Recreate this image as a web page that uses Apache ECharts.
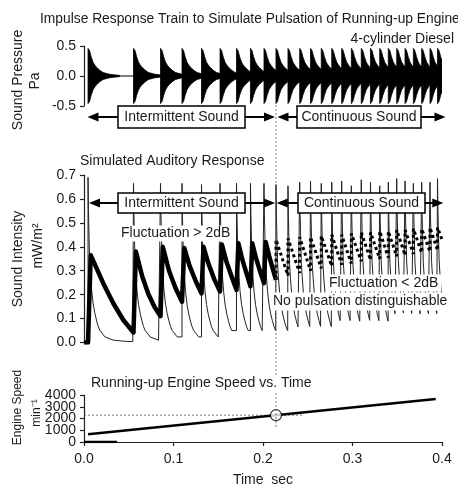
<!DOCTYPE html>
<html><head><meta charset="utf-8">
<script src="https://cdn.jsdelivr.net/npm/echarts/dist/echarts.min.js"></script>
<style>html,body{margin:0;padding:0;background:#fff}#c{width:458px;height:487px}</style>
</head><body><div id="c"></div>
<script>
// ---- data ----
const pulseTimes = [0.0045, 0.0553, 0.0855, 0.1095, 0.1313, 0.152, 0.1704, 0.186, 0.2011,
  0.2145, 0.2279, 0.241, 0.2531, 0.2651, 0.2768, 0.2879, 0.2987, 0.3098, 0.3201,
  0.3304, 0.34, 0.3494, 0.3587, 0.368, 0.3773, 0.3866, 0.395];
const pulsePressure = [0.46, 0.46, 0.46, 0.46, 0.46, 0.46, 0.46, 0.46, 0.46,
  0.46, 0.46, 0.46, 0.46, 0.46, 0.46, 0.46, 0.46, 0.46, 0.46,
  0.46, 0.46, 0.46, 0.46, 0.46, 0.46, 0.46, 0.46];
const pulseIntensity = [0.69, 0.665, 0.665, 0.665, 0.66, 0.665, 0.665, 0.665, 0.665,
  0.66, 0.655, 0.67, 0.675, 0.665, 0.67, 0.675, 0.655, 0.68, 0.67,
  0.655, 0.67, 0.685, 0.675, 0.665, 0.67, 0.67, 0.685];
// envelope of one impulse response (seconds after onset, fraction of amplitude)
const burstOffsets  = [0, 0.0008, 0.0019, 0.0035, 0.0056, 0.0075, 0.0094, 0.0131, 0.0168, 0.0242, 0.0354];
const burstEnvelope = [1, 0.97, 0.9, 0.7, 0.5, 0.4, 0.32, 0.21, 0.125, 0.0625, 0.02];
// decay of the intensity after one impulse (seconds after onset, fraction of peak)
const decayOffsets = [0, 0.0005, 0.0011, 0.0018, 0.0028, 0.004, 0.0056, 0.0075, 0.0094, 0.0112, 0.0131, 0.0187, 0.028, 0.042, 0.05];
const decayProfile = [1, 0.8, 0.65, 0.5, 0.41, 0.32, 0.24, 0.18, 0.136, 0.1, 0.075, 0.035, 0.0145, 0.007, 0.005];
// simulated auditory response (thick line, intermittent part)
const auditoryT = [0, 0.0045, 0.0075, 0.0216, 0.0327, 0.0439, 0.0553,
  0.058, 0.065, 0.072, 0.079, 0.0855,
  0.088, 0.095, 0.102, 0.1095,
  0.112, 0.118, 0.125, 0.1313,
  0.1335, 0.139, 0.1455, 0.152,
  0.154, 0.159, 0.165, 0.1704,
  0.1725, 0.177, 0.1815, 0.186,
  0.188, 0.192, 0.1965, 0.2011,
  0.203, 0.207, 0.2108, 0.2145];
const auditoryV = [0, 0, 0.365, 0.247, 0.164, 0.094, 0.042,
  0.38, 0.277, 0.202, 0.147, 0.11,
  0.40, 0.30, 0.23, 0.17,
  0.395, 0.32, 0.255, 0.205,
  0.40, 0.33, 0.265, 0.213,
  0.41, 0.34, 0.275, 0.22,
  0.415, 0.345, 0.29, 0.235,
  0.415, 0.355, 0.30, 0.248,
  0.42, 0.36, 0.31, 0.262];
// continuous part (dotted): peak after each pulse and value just before the next
const dottedPeaks   = [0.43, 0.435, 0.44, 0.44, 0.445, 0.45, 0.45, 0.455, 0.46, 0.46, 0.465, 0.465, 0.47, 0.47, 0.475, 0.475, 0.48, 0.48];
const dottedValleys = [0.28, 0.29, 0.30, 0.31, 0.32, 0.325, 0.33, 0.34, 0.345, 0.35, 0.355, 0.36, 0.365, 0.37, 0.375, 0.38, 0.385, 0.43];
const speedT = [0.0045, 0.393];
const speedV = [660, 3650];
const boundaryT = 0.2145;
const boundarySpeed = 2280;
const timeTickLabels = ['0.0', '0.1', '0.2', '0.3', '0.4'];
const speedTicks = [0, 1000, 2000, 3000, 4000];

// ---- build series data ----
const FONT = '"Liberation Sans", Arial, Helvetica, sans-serif';
const TXT = '#1a1a1a';

const thin = [[0, 0]];
for (let i = 0; i < pulseTimes.length; i++) {
  const t = pulseTimes[i], p = pulseIntensity[i];
  const next = i + 1 < pulseTimes.length ? pulseTimes[i + 1] : 0.41;
  const prevV = thin[thin.length - 1][1];
  thin.push([t, prevV]);
  thin.push([t, p]);
  for (let k = 1; k < decayOffsets.length; k++) {
    if (t + decayOffsets[k] >= next) break;
    thin.push([t + decayOffsets[k], p * decayProfile[k]]);
  }
}
const thick = auditoryT.map((t, i) => [t, auditoryV[i]]);
const startIdx = pulseTimes.indexOf(boundaryT);
const dotted = [[boundaryT, auditoryV[auditoryV.length - 1]]];
for (let j = 0; j < dottedPeaks.length; j++) {
  const t = pulseTimes[startIdx + j];
  const next = startIdx + j + 1 < pulseTimes.length ? pulseTimes[startIdx + j + 1] : 0.4;
  dotted.push([t, dottedPeaks[j]]);
  dotted.push([next, dottedValleys[j]]);
}

const chart = echarts.init(document.getElementById('c'), null, {renderer: 'canvas'});

const axisLineStyle = {color: '#222', width: 1.2};
function yAx(grid, min, max, interval, labels) {
  return {
    type: 'value', gridIndex: grid, min, max, interval,
    axisLine: {show: true, onZero: false, lineStyle: axisLineStyle},
    axisTick: {show: true, length: 4, lineStyle: axisLineStyle},
    axisLabel: {show: labels, fontSize: 14, color: TXT, fontFamily: FONT, margin: 8,
      showMinLabel: true, showMaxLabel: true, hideOverlap: false,
      formatter: v => v.toFixed(1)},
    splitLine: {show: false}
  };
}

const option = {
  animation: false,
  backgroundColor: '#fff',
  textStyle: {fontFamily: FONT},
  grid: [
    {left: 84, right: 16, top: 46, height: 60},
    {left: 84, right: 16, top: 175, height: 167.5},
    {left: 84, right: 16, top: 395, height: 47}
  ],
  xAxis: [
    {type: 'value', gridIndex: 0, min: 0, max: 0.4, show: false},
    {type: 'value', gridIndex: 1, min: 0, max: 0.4, show: false},
    {type: 'value', gridIndex: 2, min: 0, max: 0.4, interval: 0.1,
      axisLine: {show: true, onZero: false, lineStyle: axisLineStyle},
      axisTick: {show: true, length: 4, lineStyle: axisLineStyle},
      axisLabel: {fontSize: 14, color: TXT, fontFamily: FONT, margin: 10,
        showMinLabel: true, showMaxLabel: true, hideOverlap: false,
        formatter: v => timeTickLabels[Math.round(v * 10)]},
      splitLine: {show: false}}
  ],
  yAxis: [yAx(0, -0.5, 0.5, 0.5, true), yAx(1, 0, 0.7, 0.1, true), yAx(2, 0, 4000, 1000, false)],
  series: [
    {type: 'line', xAxisIndex: 0, yAxisIndex: 0, data: [[pulseTimes[0], 0], [0.4, 0]],
      symbol: 'none', lineStyle: {color: '#000', width: 1}, silent: true},
    {type: 'custom', xAxisIndex: 0, yAxisIndex: 0, encode: {x: 0, y: 1}, clip: true, silent: true,
      data: pulseTimes.map((t, i) => [t, pulsePressure[i]]),
      renderItem(params, api) {
        const t = api.value(0), a = api.value(1);
        const top = [], bot = [];
        for (let k = 0; k < burstOffsets.length; k++) {
          top.push(api.coord([t + burstOffsets[k], a * burstEnvelope[k]]));
          bot.push(api.coord([t + burstOffsets[k], -a * burstEnvelope[k]]));
        }
        return {type: 'polygon', shape: {points: top.concat(bot.reverse())},
          style: {fill: '#000', stroke: '#000', lineWidth: 0.8}};
      }},
    {type: 'line', xAxisIndex: 1, yAxisIndex: 1, data: thin, symbol: 'none', clip: true,
      lineStyle: {color: '#222', width: 1}, silent: true},
    {type: 'line', xAxisIndex: 1, yAxisIndex: 1, data: thick, symbol: 'none',
      lineStyle: {color: '#000', width: 4.5, join: 'round'}, silent: true},
    {type: 'line', xAxisIndex: 1, yAxisIndex: 1, data: dotted, symbol: 'none', clip: true,
      lineStyle: {color: '#000', width: 3, type: [3, 3]}, silent: true},
    {type: 'line', xAxisIndex: 2, yAxisIndex: 2, data: [[0, 0], [0.037, 0]], symbol: 'none',
      lineStyle: {color: '#000', width: 2.5}, silent: true},
    {type: 'line', xAxisIndex: 2, yAxisIndex: 2, data: [[0, boundarySpeed], [0.245, boundarySpeed]], symbol: 'none',
      lineStyle: {color: '#555', width: 0.8, type: [2, 2]}, silent: true},
    {type: 'line', xAxisIndex: 2, yAxisIndex: 2, data: speedT.map((t, i) => [t, speedV[i]]), symbol: 'none',
      lineStyle: {color: '#000', width: 2.5}, silent: true},
    {type: 'scatter', xAxisIndex: 2, yAxisIndex: 2, data: [[boundaryT, boundarySpeed]], symbol: 'circle', symbolSize: 11,
      itemStyle: {color: '#fff', borderColor: '#000', borderWidth: 1.2}, silent: true, z: 5}
  ]
};
chart.setOption(option);

// ---- annotations ----
const bx = chart.convertToPixel({xAxisIndex: 0}, boundaryT);
const G = [];
function text(str, x, y, opts) {
  opts = opts || {};
  G.push({type: 'text', x, y, rotation: opts.rot || 0, z: 100,
    style: Object.assign({text: str, font: (opts.size || 14) + 'px ' + FONT, fill: TXT,
      align: opts.align || 'left', verticalAlign: 'middle'}, opts.bg ? {backgroundColor: '#fff', padding: opts.pad || [1, 2]} : {})});
}
function arrow(x1, x2, y) {
  G.push({type: 'line', z: 99, shape: {x1: x1 + 8, y1: y, x2: x2 - 8, y2: y}, style: {stroke: '#000', lineWidth: 2}});
  G.push({type: 'polygon', z: 99, shape: {points: [[x1, y], [x1 + 11, y - 4.5], [x1 + 11, y + 4.5]]}, style: {fill: '#000'}});
  G.push({type: 'polygon', z: 99, shape: {points: [[x2, y], [x2 - 11, y - 4.5], [x2 - 11, y + 4.5]]}, style: {fill: '#000'}});
}
function box(x1, x2, y1, y2, str) {
  G.push({type: 'rect', z: 100, shape: {x: x1, y: y1, width: x2 - x1, height: y2 - y1},
    style: {fill: '#fff', stroke: '#000', lineWidth: 1.5}});
  G.push({type: 'text', z: 101, x: (x1 + x2) / 2, y: (y1 + y2) / 2 + 0.5,
    style: {text: str, font: '14px ' + FONT, fill: TXT, align: 'center', verticalAlign: 'middle'}});
}
// boundary dashed line
G.push({type: 'line', z: 98, shape: {x1: bx, y1: 97, x2: bx, y2: 428}, style: {stroke: '#555', lineWidth: 0.8, lineDash: [2, 2]}});

// engine-speed tick labels (placed through the axis scale)
speedTicks.forEach(v => {
  const y = chart.convertToPixel({yAxisIndex: 2}, v);
  text(String(v), 76, y, {align: 'right'});
});

text('Impulse Response Train to Simulate Pulsation of Running-up Engine', 40, 19, {size: 13.8});
text('4-cylinder Diesel', 454, 39, {align: 'right'});
text('Sound Pressure', 18, 80, {rot: Math.PI / 2, align: 'center'});
text('Pa', 35, 81, {rot: Math.PI / 2, align: 'center'});
arrow(87.5, 275, 117); box(118, 245, 106, 128, 'Intermittent Sound');
arrow(277.5, 445.5, 117); box(297, 421, 106, 128, 'Continuous Sound');

text('Simulated Auditory Response', 80, 161);
arrow(89, 275, 203); box(118, 245, 193, 213, 'Intermittent Sound');
arrow(276.7, 443.3, 203); box(298, 425, 193, 213, 'Continuous Sound');
text('Fluctuation > 2dB', 119, 233.5, {bg: true});
text('Fluctuation < 2dB', 326, 283, {bg: true, pad: [2, 3, 1, 3]});
text('No pulsation distinguishable', 271, 301.5, {bg: true, pad: [2, 2, 2, 2]});
text('Sound Intensity', 18, 259, {rot: Math.PI / 2, align: 'center'});
text('mW/m\u00B2', 38, 246, {rot: Math.PI / 2, align: 'center'});

text('Running-up Engine Speed vs. Time', 90, 383, {bg: true, pad: [1, 1]});
text('Engine Speed', 18, 407.5, {rot: Math.PI / 2, align: 'center', size: 12});
text('min\u207B\u00B9', 37, 413, {rot: Math.PI / 2, align: 'center', size: 12});
text('Time  sec', 263, 480, {align: 'center'});

chart.setOption({graphic: G});
</script></body></html>
